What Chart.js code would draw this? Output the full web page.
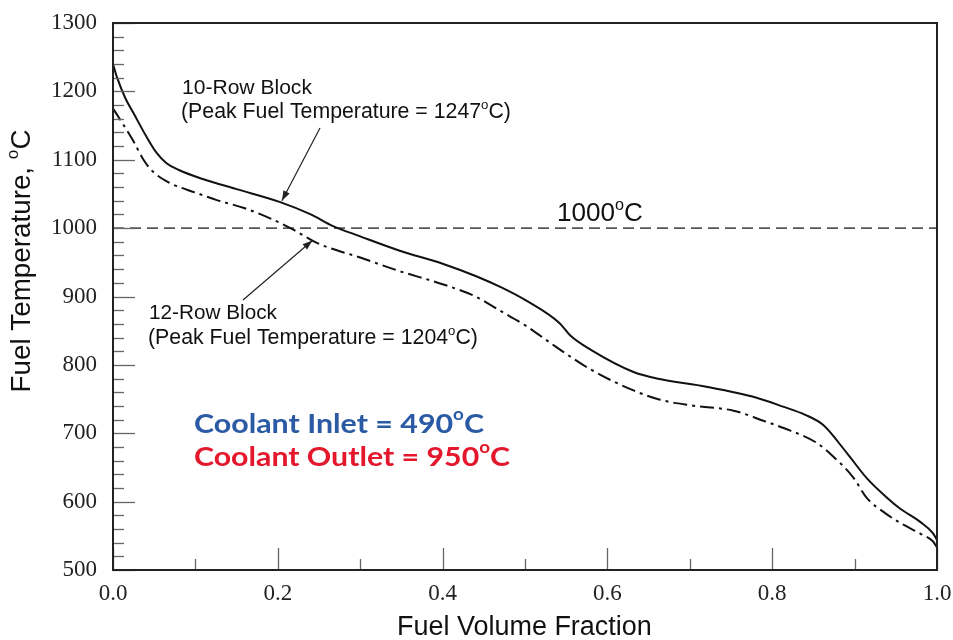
<!DOCTYPE html>
<html><head><meta charset="utf-8">
<script src="https://cdn.jsdelivr.net/npm/chart.js@4/dist/chart.umd.min.js"></script>
<style>html,body{margin:0;padding:0;background:#fff}#wrap{width:953px;height:640px}</style>
</head><body><div id="wrap"><canvas id="c" width="953" height="640"></canvas></div>
<script>
// ---- data ----
const row10X = [0.0,0.005,0.015,0.025,0.04,0.053,0.065,0.08,0.106,0.15,0.203,0.24,0.267,0.30,0.348,0.40,0.44,0.47,0.50,0.542,0.555,0.58,0.631,0.66,0.72,0.781,0.813,0.84,0.862,0.89,0.915,0.94,0.955,0.98,0.995,1.0];
const row10Y = [1240,1220,1190,1168,1135,1110,1095,1085,1073,1057,1038,1020,1003,988,967,948,930,914,895,861,843,822,790,780,768,752,739,727,712,672,634,605,590,570,554,544];
const row12X = [0.0,0.008,0.024,0.037,0.049,0.069,0.1,0.126,0.16,0.195,0.22,0.248,0.30,0.348,0.40,0.44,0.47,0.50,0.538,0.58,0.631,0.664,0.70,0.753,0.79,0.813,0.854,0.874,0.898,0.915,0.935,0.955,0.98,0.995,1.0];
const row12Y = [1175,1160,1129,1100,1082,1066,1052,1041,1029,1012,997,978,957,937,918,900,879,858,826,793,763,749,741,733,718,708,686,666,636,605,585,569,553,542,533];
const limitX = [0.0, 1.0];
const limitY = [1000, 1000];
const yTicks = [500,600,700,800,900,1000,1100,1200,1300];
const xTicks = [0.0,0.2,0.4,0.6,0.8,1.0];
const peak10 = 1247, peak12 = 1204, inletT = 490, outletT = 950;

const pts = (xs, ys) => xs.map((x,i)=>({x, y: ys[i]}));

const SANS = '"Liberation Sans", Arial, sans-serif';
const SERIF = '"Liberation Serif", "Times New Roman", serif';
const GEO = 'Lato, "Open Sans", sans-serif';

function richWidth(ctx, parts, size, family, weight){
  let w=0;
  for(const [t,sup] of parts){ ctx.font = `${weight} ${sup?size*0.62:size}px ${family}`; w+=ctx.measureText(t).width; }
  return w;
}
function drawRich(ctx, parts, x, yCenter, targetW, family, weight, color, rot, fixedSize){
  let size = fixedSize || 20, sx = 1;
  if(fixedSize){ sx = targetW/richWidth(ctx, parts, size, family, weight); }
  else { size = size*targetW/richWidth(ctx, parts, size, family, weight); }
  const w = richWidth(ctx, parts, size, family, weight);
  ctx.save();
  ctx.fillStyle=color; ctx.textBaseline='middle'; ctx.textAlign='left';
  ctx.translate(x, yCenter);
  if(rot){ ctx.rotate(-Math.PI/2); ctx.translate(-w/2,0); }
  ctx.scale(sx,1);
  let cx=0;
  for(const [t,sup] of parts){
    const s = sup?size*0.62:size;
    ctx.font = `${weight} ${s}px ${family}`;
    ctx.fillText(t, cx, sup ? -size*0.33 : 0);
    cx += ctx.measureText(t).width;
  }
  ctx.restore();
}
function arrow(ctx, x1,y1,x2,y2){
  ctx.save(); ctx.strokeStyle='#222'; ctx.fillStyle='#222'; ctx.lineWidth=1.2;
  ctx.beginPath(); ctx.moveTo(x1,y1); ctx.lineTo(x2,y2); ctx.stroke();
  const a=Math.atan2(y2-y1,x2-x1), L=10, W=3.5;
  ctx.beginPath(); ctx.moveTo(x2,y2);
  ctx.lineTo(x2-L*Math.cos(a)+W*Math.sin(a), y2-L*Math.sin(a)-W*Math.cos(a));
  ctx.lineTo(x2-L*Math.cos(a)-W*Math.sin(a), y2-L*Math.sin(a)+W*Math.cos(a));
  ctx.closePath(); ctx.fill(); ctx.restore();
}

const decor = {
  id:'decor',
  afterDraw(chart){
    const ctx=chart.ctx, a=chart.chartArea, xs=chart.scales.x, ys=chart.scales.y;
    ctx.save(); ctx.strokeStyle='#666'; ctx.lineWidth=1.3;
    for(let v=500; v<=1300; v+=20){
      const p=Math.round(ys.getPixelForValue(v))+0.5, len = (v%100===0)?22:11;
      ctx.beginPath(); ctx.moveTo(a.left,p); ctx.lineTo(a.left+len,p); ctx.stroke();
    }
    for(let k=0;k<=10;k++){
      const p=Math.round(xs.getPixelForValue(k/10))+0.5, len=(k%2===0)?22:11;
      ctx.beginPath(); ctx.moveTo(p,a.bottom); ctx.lineTo(p,a.bottom-len); ctx.stroke();
    }
    ctx.restore();
    ctx.save(); ctx.strokeStyle='#222'; ctx.lineWidth=2;
    ctx.strokeRect(a.left, a.top, a.right-a.left, a.bottom-a.top); ctx.restore();
    drawRich(ctx, [['Fuel Temperature, ',false],['o',true],['C',false]], 22, 261, 263, SANS, 'normal', '#111', true);
    drawRich(ctx, [['Fuel Volume Fraction',false]], 397, 628, 255, SANS, 'normal', '#111', false);
    drawRich(ctx, [['10-Row Block',false]], 182, 88, 130, SANS, 'normal', '#111');
    drawRich(ctx, [['(Peak Fuel Temperature = '+peak10,false],['o',true],['C)',false]], 181, 112, 330, SANS, 'normal', '#111');
    drawRich(ctx, [['12-Row Block',false]], 149, 313, 128, SANS, 'normal', '#111');
    drawRich(ctx, [['(Peak Fuel Temperature = '+peak12,false],['o',true],['C)',false]], 148, 338, 330, SANS, 'normal', '#111');
    drawRich(ctx, [['1000',false],['o',true],['C',false]], 557, 214, 86, SANS, 'normal', '#111');
    drawRich(ctx, [['Coolant Inlet = '+inletT,false],['o',true],['C',false]], 194, 424, 290, GEO, 'bold', '#2b5aa5', false, 27);
    drawRich(ctx, [['Coolant Outlet = '+outletT,false],['o',true],['C',false]], 194, 457, 316, GEO, 'bold', '#e4172c', false, 27);
    arrow(ctx, 320, 128, xs.getPixelForValue(0.205), ys.getPixelForValue(1040));
    arrow(ctx, 243, 300, xs.getPixelForValue(0.242), ys.getPixelForValue(982));
  }
};

new Chart(document.getElementById('c'), {
  type:'line',
  data:{datasets:[
    {label:'10-Row Block', data:pts(row10X,row10Y), borderColor:'#111', borderWidth:2, pointRadius:0, cubicInterpolationMode:'monotone', fill:false},
    {label:'12-Row Block', data:pts(row12X,row12Y), borderColor:'#111', borderWidth:2, borderDash:[14,5,3,5], pointRadius:0, cubicInterpolationMode:'monotone', fill:false},
    {label:'1000°C', data:pts(limitX,limitY), borderColor:'#555', borderWidth:1.6, borderDash:[11,6], pointRadius:0, fill:false}
  ]},
  options:{
    responsive:false, animation:false, devicePixelRatio:1,
    layout:{padding:{left:0,right:16,top:23,bottom:0}},
    plugins:{legend:{display:false}, tooltip:{enabled:false}},
    scales:{
      x:{type:'linear', min:0, max:1,
         afterFit(s){ s.height=70; s.paddingLeft=0; s.paddingRight=0; },
         afterBuildTicks(s){ s.ticks = xTicks.map(v=>({value:v})); },
         grid:{display:false, drawTicks:false}, border:{display:false},
         ticks:{padding:10, color:'#222', font:{family:SERIF, size:23}, callback:v=>Number(v).toFixed(1), maxRotation:0}},
      y:{type:'linear', min:500, max:1300,
         afterFit(s){ s.width=113; s.paddingTop=0; s.paddingBottom=0; },
         afterBuildTicks(s){ s.ticks = yTicks.map(v=>({value:v})); },
         grid:{display:false, drawTicks:false}, border:{display:false},
         ticks:{padding:16, color:'#222', font:{family:SERIF, size:23}, callback:v=>String(v)}}
    }
  },
  plugins:[decor]
});
</script></body></html>
